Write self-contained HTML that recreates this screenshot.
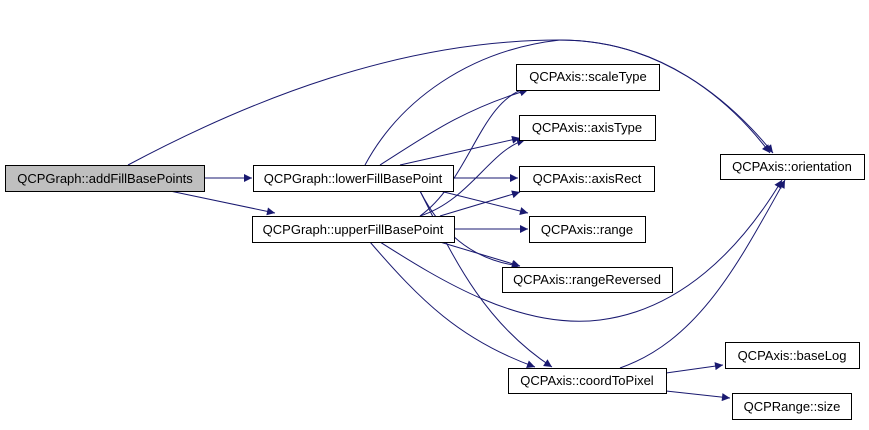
<!DOCTYPE html>
<html><head><style>
body{margin:0;background:#fff;width:869px;height:425px;overflow:hidden}
text{font-family:"Liberation Sans",sans-serif;font-size:13px;fill:#000}
</style></head><body>
<svg width="869" height="425" viewBox="0 0 869 425" xmlns="http://www.w3.org/2000/svg">
<defs><marker id="a" viewBox="0 0 10 10" refX="10" refY="5" markerWidth="11" markerHeight="8" markerUnits="userSpaceOnUse" orient="auto"><path d="M0,0L10,5L0,10z" fill="#191970"/></marker></defs>
<g fill="none" stroke="#191970" stroke-width="1" marker-end="url(#a)">
<path d="M204,178 L252,178"/>
<path d="M170,191 L275,213"/>
<path d="M128,165 C250,100 400,40 560,40 C660,40 730,100 770,153"/>
<path d="M365,165 C400,100 470,50 560,40 C660,40 730,100 773,153"/>
<path d="M380,165 C420,140 460,110 528,90"/>
<path d="M400,165 L520,138"/>
<path d="M453,178 L518,178"/>
<path d="M440,191 L528,213"/>
<path d="M420,191 C440,230 470,260 520,266"/>
<path d="M420,191 C450,250 480,320 552,367"/>
<path d="M420,216 C470,180 480,100 527,88"/>
<path d="M420,216 C470,200 490,150 525,140"/>
<path d="M440,216 L520,192"/>
<path d="M454,229 L528,229"/>
<path d="M440,242 L520,266"/>
<path d="M370,242 C420,300 460,340 535,367"/>
<path d="M380,242 C440,280 520,330 600,320 C680,310 740,250 782,180"/>
<path d="M620,368 C700,340 740,260 785,180"/>
<path d="M666,373 L723,365"/>
<path d="M666,391 L730,398"/>
</g>
<g stroke="#000" stroke-width="1">
<rect x="5.5" y="165.5" width="199" height="26" fill="#bfbfbf"/>
<rect x="253.5" y="165.5" width="200" height="26" fill="#fff"/>
<rect x="252.5" y="216.5" width="202" height="26" fill="#fff"/>
<rect x="516.5" y="64.5" width="143" height="26" fill="#fff"/>
<rect x="519.5" y="115.5" width="136" height="25" fill="#fff"/>
<rect x="519.5" y="166.5" width="135" height="25" fill="#fff"/>
<rect x="529.5" y="216.5" width="116" height="26" fill="#fff"/>
<rect x="502.5" y="267.5" width="170" height="25" fill="#fff"/>
<rect x="720.5" y="154.5" width="144" height="25" fill="#fff"/>
<rect x="508.5" y="368.5" width="158" height="25" fill="#fff"/>
<rect x="725.5" y="342.5" width="134" height="26" fill="#fff"/>
<rect x="732.5" y="393.5" width="119" height="26" fill="#fff"/>
</g>
<g text-anchor="middle">
<text x="105" y="183">QCPGraph::addFillBasePoints</text>
<text x="353" y="183">QCPGraph::lowerFillBasePoint</text>
<text x="353" y="234">QCPGraph::upperFillBasePoint</text>
<text x="588" y="81">QCPAxis::scaleType</text>
<text x="587" y="132">QCPAxis::axisType</text>
<text x="587" y="183">QCPAxis::axisRect</text>
<text x="587" y="234">QCPAxis::range</text>
<text x="587" y="284">QCPAxis::rangeReversed</text>
<text x="792" y="171">QCPAxis::orientation</text>
<text x="587" y="385">QCPAxis::coordToPixel</text>
<text x="792" y="360">QCPAxis::baseLog</text>
<text x="792" y="411">QCPRange::size</text>
</g>
</svg>
</body></html>
